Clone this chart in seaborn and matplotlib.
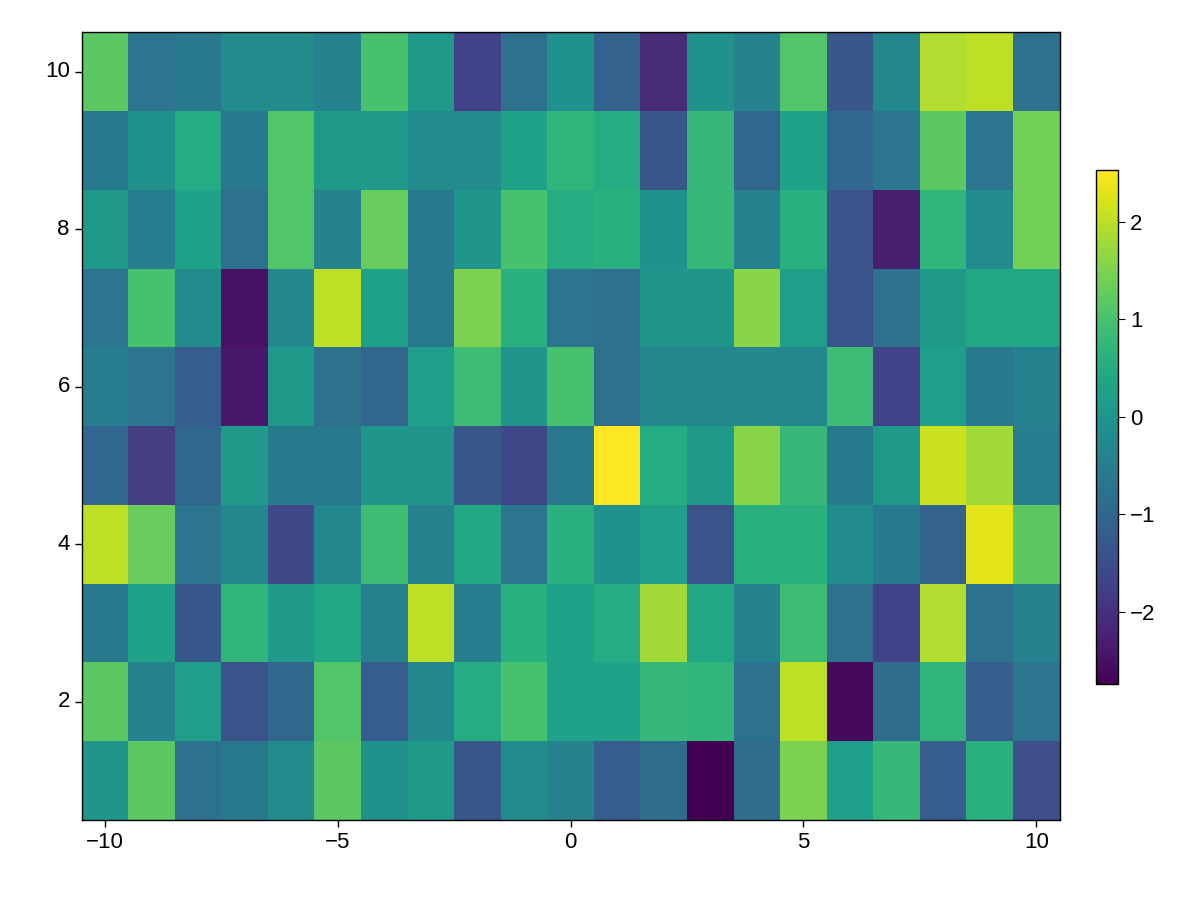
import numpy as np
import pandas as pd
import seaborn as sns
import matplotlib.pyplot as plt

xs = list(range(-10, 11))
ys = list(range(10, 0, -1))  # top row first
r10 = [1.2,-0.7,-0.6,-0.2,-0.2,-0.4,1.0,0.1,-1.7,-0.8,-0.1,-1.1,-2.1,-0.1,-0.4,1.1,-1.3,-0.3,1.9,2.0,-0.8]
r9 = [-0.6,-0.1,0.5,-0.6,1.1,0.1,0.1,-0.2,-0.2,0.3,0.7,0.5,-1.3,0.8,-1.0,0.3,-1.0,-0.7,1.2,-0.7,1.4]
r8 = [0.1,-0.5,0.3,-0.8,1.1,-0.4,1.3,-0.6,0.0,1.0,0.5,0.6,-0.1,0.8,-0.4,0.6,-1.4,-2.3,0.7,-0.2,1.4]
r7 = [-0.7,1.0,-0.2,-2.5,-0.3,2.0,0.3,-0.6,1.5,0.6,-0.7,-0.8,0.0,0.0,1.6,0.2,-1.4,-0.8,0.1,0.4,0.4]
r6 = [-0.5,-0.7,-1.2,-2.4,0.1,-0.8,-1.0,0.2,0.9,0.0,1.0,-0.8,-0.3,-0.3,-0.3,-0.3,0.9,-1.7,0.2,-0.6,-0.4]
r5 = [-1.0,-1.8,-1.0,0.1,-0.6,-0.6,0.0,0.0,-1.3,-1.6,-0.6,2.53,0.5,0.1,1.6,0.8,-0.6,0.1,2.1,1.8,-0.5]
r4 = [2.0,1.3,-0.7,-0.3,-1.6,-0.3,0.9,-0.4,0.4,-0.7,0.6,-0.1,0.2,-1.4,0.6,0.6,-0.2,-0.6,-1.1,2.3,1.2]
r3 = [-0.6,0.3,-1.3,0.7,0.1,0.4,-0.4,2.0,-0.5,0.6,0.3,0.5,1.8,0.4,-0.4,0.9,-0.8,-1.7,1.9,-0.8,-0.4]
r2 = [1.2,-0.4,0.2,-1.4,-1.0,1.1,-1.2,-0.3,0.5,1.0,0.3,0.3,0.8,0.7,-0.8,2.0,-2.6,-0.9,0.7,-1.2,-0.7]
r1 = [0.0,1.2,-0.8,-0.6,-0.2,1.2,-0.1,0.1,-1.3,-0.2,-0.4,-1.2,-0.9,-2.74,-0.9,1.5,0.2,0.8,-1.2,0.6,-1.5]

df = pd.DataFrame([r10, r9, r8, r7, r6, r5, r4, r3, r2, r1], index=ys, columns=xs)

sns.set_style("white")
plt.rcParams['font.family'] = ['Liberation Sans', 'DejaVu Sans']
plt.rcParams['text.color'] = 'black'
plt.rcParams['xtick.color'] = 'black'
plt.rcParams['ytick.color'] = 'black'
fig = plt.figure(figsize=(12, 9), dpi=100)
ax = fig.add_axes([0.068, 0.089, 0.815, 0.875])
cax = fig.add_axes([0.913, 0.24, 0.019, 0.571])
sns.heatmap(df, ax=ax, cbar_ax=cax, cmap="viridis", vmin=-2.74, vmax=2.53)

xt = [-10, -5, 0, 5, 10]
ax.set_xticks([x + 10 + 0.5 for x in xt])
ax.set_xticklabels([str(v).replace('-', '\u2212') for v in xt], rotation=0, fontsize=16)
yt = [2, 4, 6, 8, 10]
ax.set_yticks([10 - y + 0.5 for y in yt])
ax.set_yticklabels([str(v) for v in yt], rotation=0, fontsize=16)
ax.set_xlabel(""); ax.set_ylabel("")
ax.tick_params(length=5, width=1, direction='out', left=True, bottom=True, colors='black')
for s in ax.spines.values():
    s.set_visible(True); s.set_color('black'); s.set_linewidth(1)

cb = ax.collections[0].colorbar
cb.set_ticks([-2, -1, 0, 1, 2])
cb.set_ticklabels(['\u22122', '\u22121', '0', '1', '2'])
cax.tick_params(labelsize=16, length=5, right=True, colors='black')
cb.outline.set_visible(True); cb.outline.set_edgecolor('black'); cb.outline.set_linewidth(1)

fig.savefig("out.png", dpi=100)
